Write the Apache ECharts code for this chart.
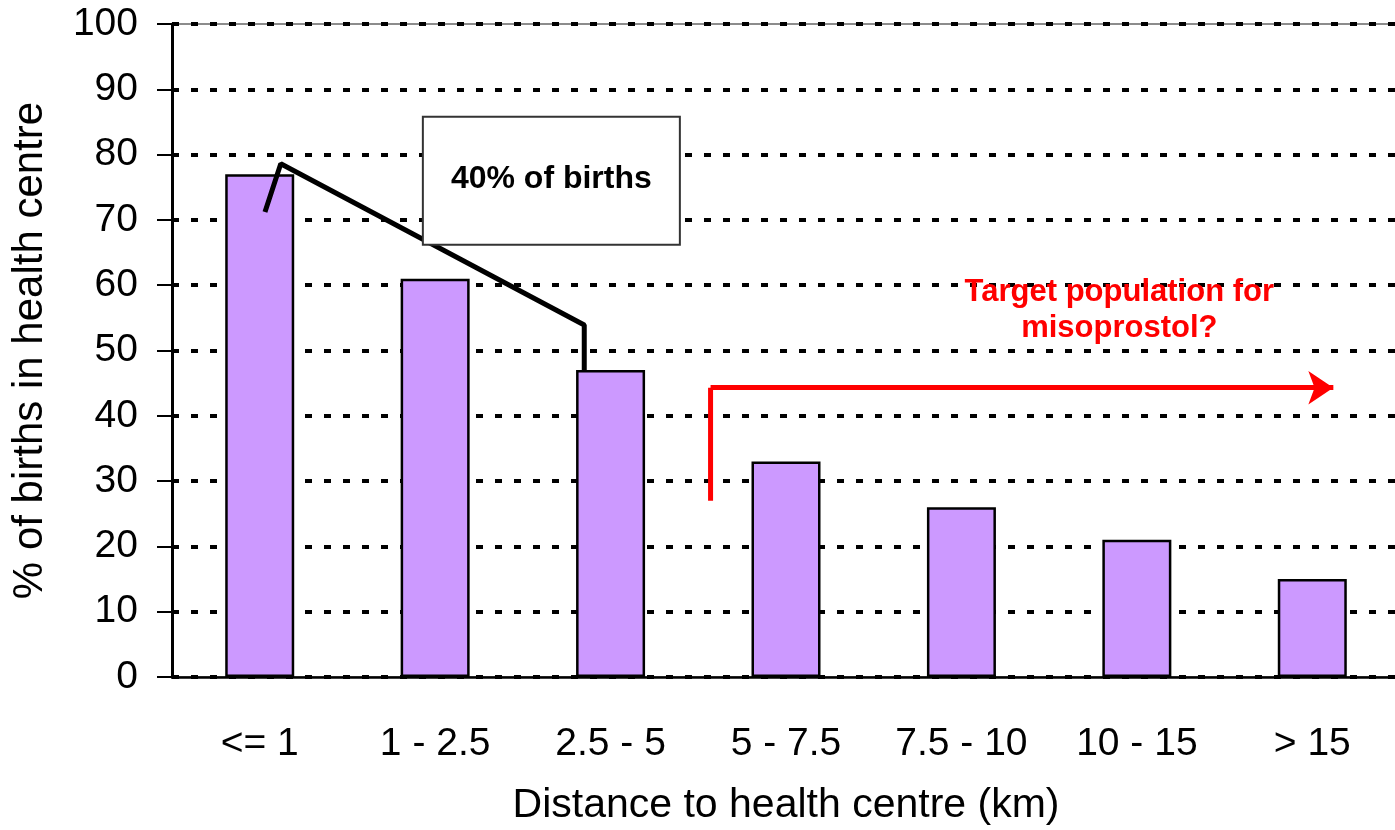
<!DOCTYPE html>
<html>
<head>
<meta charset="utf-8">
<script src="https://cdn.jsdelivr.net/npm/echarts@6/dist/echarts.min.js"></script>
<style>
  html, body { margin: 0; padding: 0; background: #fff; }
  #chart { width: 1395px; height: 830px; }
</style>
</head>
<body>
<div id="chart"></div>
<script>
  // categories and values
  let categories = ['<= 1', '1 - 2.5', '2.5 - 5', '5 - 7.5', '7.5 - 10', '10 - 15', '> 15']
  let births = [77, 61, 47, 33, 26, 21, 15]
  let yTicks = { min: 0, max: 100, interval: 10 }

  // annotations, in data space (x = category position 0..7, y = %)
  let bracketLine = [[0.53, 71.2], [0.62, 78.6], [2.35, 53.9], [2.35, 47]]
  let targetStem = [[3.07, 27], [3.07, 44.3]]
  let targetArrow = [[3.07, 44.3], [6.62, 44.3]]
  let noteBox = { x1: 1.43, y1: 85.8, x2: 2.895, y2: 66.2, text: '40% of births' }
  let targetNote = { x: 5.4, y: 56.2, text: 'Target population for\nmisoprostol?' }

  let font = 'Liberation Sans, Arial, sans-serif'
  let chart = echarts.init(document.getElementById('chart'), null, { renderer: 'canvas' })

  let option = {
    backgroundColor: '#ffffff',
    animation: false,
    grid: {
      left: 172, top: 24, width: 1228, height: 653,
      outerBoundsMode: 'none',
      containLabel: false,
      show: true, borderColor: '#8c8c8c', borderWidth: 2, backgroundColor: 'transparent'
    },
    xAxis: [
      {
        type: 'category',
        data: categories,
        name: 'Distance to health centre (km)',
        nameLocation: 'middle',
        nameGap: 108,
        nameTextStyle: { fontFamily: font, fontSize: 41, color: '#000' },
        axisLine: { lineStyle: { color: '#000', width: 2.5 } },
        axisTick: { length: 13, lineStyle: { color: '#000', width: 2 } },
        axisLabel: { fontFamily: font, fontSize: 39, color: '#000', margin: 48, interval: 0 }
      },
      { type: 'value', min: 0, max: 7, show: false }
    ],
    yAxis: {
      type: 'value',
      min: yTicks.min, max: yTicks.max, interval: yTicks.interval,
      name: '% of births in health centre',
      nameLocation: 'middle',
      nameGap: 121,
      nameRotate: 90,
      nameTextStyle: { fontFamily: font, fontSize: 42, color: '#000' },
      axisLine: { show: true, lineStyle: { color: '#000', width: 3 } },
      axisTick: { show: true, length: 15, lineStyle: { color: '#000', width: 2 } },
      axisLabel: { fontFamily: font, fontSize: 39, color: '#000', margin: 34 },
      splitLine: { lineStyle: { color: '#000', width: 4, type: [7, 12] } }
    },
    series: [
      {
        name: '% of births in health centre',
        type: 'bar',
        data: births,
        barWidth: 69,
        itemStyle: { color: '#cc99ff', borderColor: '#000', borderWidth: 2.5 },
        z: 3
      },
      {
        type: 'line',
        xAxisIndex: 1,
        data: bracketLine,
        symbol: 'none',
        lineStyle: { color: '#000', width: 5 },
        z: 4
      },
      {
        type: 'line',
        xAxisIndex: 1,
        data: targetStem,
        symbol: 'none',
        lineStyle: { color: '#ff0000', width: 5 },
        z: 4
      },
      {
        type: 'lines',
        coordinateSystem: 'cartesian2d',
        xAxisIndex: 1,
        symbol: ['none', 'arrow'],
        symbolSize: 25,
        lineStyle: { color: '#ff0000', width: 5, opacity: 1, curveness: 0 },
        data: [{ coords: targetArrow }],
        z: 4
      }
    ]
  }
  chart.setOption(option)

  // boxes and notes placed from data space
  let toPx = (p) => chart.convertToPixel({ xAxisIndex: 1, yAxisIndex: 0 }, p)
  let a = toPx([noteBox.x1, noteBox.y1])
  let b = toPx([noteBox.x2, noteBox.y2])
  let t = toPx([targetNote.x, targetNote.y])
  chart.setOption({
    graphic: [
      {
        type: 'rect',
        shape: { x: a[0], y: a[1], width: b[0] - a[0], height: b[1] - a[1] },
        style: { fill: '#fff', stroke: '#333', lineWidth: 2 },
        z: 10
      },
      {
        type: 'text',
        x: (a[0] + b[0]) / 2, y: (a[1] + b[1]) / 2 - 2,
        style: {
          text: noteBox.text, fontFamily: font, fontSize: 32, fontWeight: 'bold',
          fill: '#000', align: 'center', verticalAlign: 'middle'
        },
        z: 11
      },
      {
        type: 'text',
        x: t[0], y: t[1],
        style: {
          text: targetNote.text, fontFamily: font, fontSize: 31, fontWeight: 'bold',
          fill: '#ff0000', align: 'center', verticalAlign: 'middle', lineHeight: 36
        },
        z: 11
      }
    ]
  })
</script>
</body>
</html>
